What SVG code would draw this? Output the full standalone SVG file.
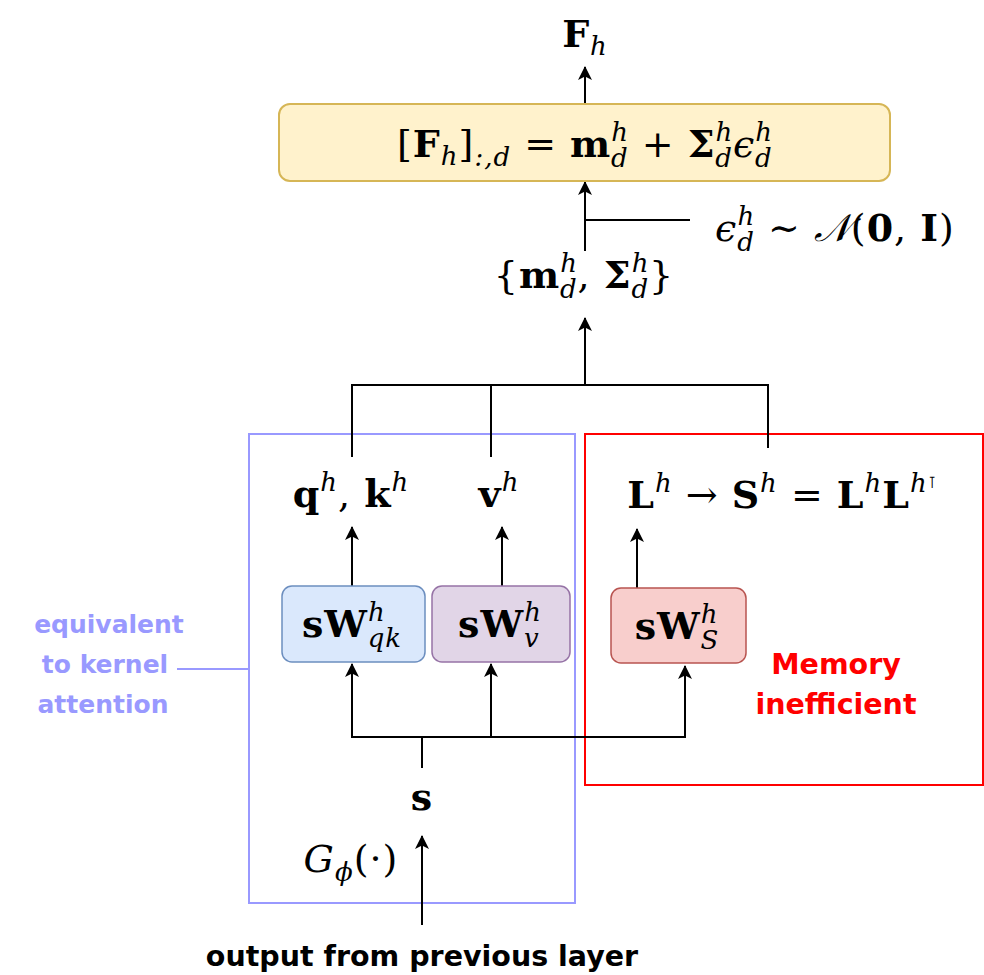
<svg xmlns="http://www.w3.org/2000/svg" width="984" height="975" viewBox="0 0 984 975">
<style>
.m{font-family:"DejaVu Serif","Liberation Serif",serif;font-size:38px;letter-spacing:1px;fill:#000;text-anchor:middle}
.b{font-weight:bold}
.i{font-style:italic}
.s{font-size:26px;font-style:italic;font-weight:normal}
.ln{stroke:#000;stroke-width:2;fill:none}
.lbl{font-family:"DejaVu Sans","Liberation Sans",sans-serif;font-weight:bold;text-anchor:middle}
</style>
<defs>
<marker id="ah" viewBox="0 0 14 14" refX="13" refY="7" markerWidth="14" markerHeight="14" markerUnits="userSpaceOnUse" orient="auto">
<path d="M0,0 L14,7 L0,14 L3.5,7 Z" fill="#000"/>
</marker>
</defs>
<rect x="0" y="0" width="984" height="975" fill="#fff"/>

<g id="regions">
<rect id="kernel-region" x="249" y="434" width="326" height="469" fill="none" stroke="#9999ff" stroke-width="2"/>
<rect id="memory-region" x="585" y="434" width="398" height="351" fill="none" stroke="#ff0000" stroke-width="2"/>
</g>

<g id="connectors">
<line class="ln" x1="585" y1="104" x2="585" y2="67" marker-end="url(#ah)"/>
<line class="ln" x1="585" y1="251" x2="585" y2="182" marker-end="url(#ah)"/>
<line class="ln" x1="585" y1="220" x2="690" y2="220"/>
<line class="ln" x1="585" y1="385" x2="585" y2="318" marker-end="url(#ah)"/>
<polyline class="ln" points="352,457 352,385 768,385 768,448"/>
<line class="ln" x1="491" y1="385" x2="491" y2="457"/>
<line class="ln" x1="352" y1="586" x2="352" y2="527" marker-end="url(#ah)"/>
<line class="ln" x1="502" y1="586" x2="502" y2="527" marker-end="url(#ah)"/>
<line class="ln" x1="637" y1="588" x2="637" y2="529" marker-end="url(#ah)"/>
<polyline class="ln" points="352,666 352,737 685,737 685,666" marker-end="url(#ah)"/>
<line class="ln" x1="352" y1="737" x2="352" y2="664" marker-end="url(#ah)"/>
<line class="ln" x1="491" y1="737" x2="491" y2="664" marker-end="url(#ah)"/>
<line class="ln" x1="422" y1="737" x2="422" y2="768"/>
<line class="ln" x1="422" y1="925" x2="422" y2="836" marker-end="url(#ah)"/>
<line x1="177" y1="669" x2="249" y2="669" stroke="#9999ff" stroke-width="2"/>
</g>

<g id="Fh-out">
<text class="m" x="585" y="47"><tspan class="b">F</tspan><tspan class="s" dy="8">h</tspan></text>
</g>

<g id="sample-box">
<rect x="279" y="104" width="611" height="77" rx="11" fill="#fff2cc" stroke="#d6b656" stroke-width="2"/>
<text class="m" x="585" y="157">[<tspan class="b">F</tspan><tspan class="s" dy="8">h</tspan><tspan dy="-8">]</tspan><tspan class="s" font-style="normal" dy="9">:,</tspan><tspan class="s">d</tspan><tspan dy="-9"> = </tspan><tspan class="b">m</tspan><tspan class="s" dy="-16">h</tspan><tspan class="s" dx="-18" dy="26">d</tspan><tspan dy="-10"> + </tspan><tspan class="b">Σ</tspan><tspan class="s" dy="-16">h</tspan><tspan class="s" dx="-18" dy="26">d</tspan><tspan class="i" dy="-10">ϵ</tspan><tspan class="s" dy="-16">h</tspan><tspan class="s" dx="-18" dy="26">d</tspan></text>
</g>

<g id="noise">
<text class="m" x="835" y="241"><tspan class="i">ϵ</tspan><tspan class="s" dy="-16">h</tspan><tspan class="s" dx="-18" dy="26">d</tspan><tspan dy="-10"> ∼ </tspan><tspan class="i">𝒩</tspan>(<tspan class="b">0</tspan>, <tspan class="b">I</tspan>)</text>
</g>

<g id="params">
<text class="m" x="584" y="288">{<tspan class="b">m</tspan><tspan class="s" dy="-16">h</tspan><tspan class="s" dx="-18" dy="26">d</tspan><tspan dy="-10">, </tspan><tspan class="b">Σ</tspan><tspan class="s" dy="-16">h</tspan><tspan class="s" dx="-18" dy="26">d</tspan><tspan dy="-10">}</tspan></text>
</g>

<g id="qk-label">
<text class="m" x="351" y="507"><tspan class="b">q</tspan><tspan class="s" dy="-16">h</tspan><tspan dy="16">, </tspan><tspan class="b">k</tspan><tspan class="s" dy="-16">h</tspan></text>
</g>
<g id="v-label">
<text class="m" x="499" y="507"><tspan class="b">v</tspan><tspan class="s" dy="-16">h</tspan></text>
</g>
<g id="LS-label">
<text class="m" x="782" y="508"><tspan class="b">L</tspan><tspan class="s" dy="-16">h</tspan><tspan dy="16"> → </tspan><tspan class="b">S</tspan><tspan class="s" dy="-16">h</tspan><tspan dy="16"> = </tspan><tspan class="b">L</tspan><tspan class="s" dy="-16">h</tspan><tspan class="b" dy="16">L</tspan><tspan class="s" dy="-16">h</tspan><tspan font-size="16" dy="-4">⊺</tspan></text>
</g>

<g id="Wqk">
<rect x="282" y="586" width="143" height="76" rx="10" fill="#dae8fc" stroke="#6c8ebf" stroke-width="1.5"/>
<text class="m" x="352" y="637"><tspan class="b">sW</tspan><tspan class="s" dy="-16">h</tspan><tspan class="s" dx="-18" dy="26">qk</tspan></text>
</g>
<g id="Wv">
<rect x="432" y="586" width="138" height="76" rx="10" fill="#e1d5e7" stroke="#9673a6" stroke-width="1.5"/>
<text class="m" x="500" y="637"><tspan class="b">sW</tspan><tspan class="s" dy="-16">h</tspan><tspan class="s" dx="-18" dy="26">v</tspan></text>
</g>
<g id="WS">
<rect x="611" y="588" width="135" height="75" rx="10" fill="#f8cecc" stroke="#b85450" stroke-width="1.5"/>
<text class="m" x="677" y="639"><tspan class="b">sW</tspan><tspan class="s" dy="-16">h</tspan><tspan class="s" dx="-18" dy="26">S</tspan></text>
</g>

<g id="s-label">
<text class="m b" x="422" y="810">s</text>
</g>
<g id="G-label">
<text class="m" x="351" y="872"><tspan class="i">G</tspan><tspan class="s" dy="9">ϕ</tspan><tspan dy="-9">(·)</tspan></text>
</g>

<g id="kernel-note">
<text class="lbl" fill="#9999ff" font-size="25"><tspan x="109" y="633">equivalent</tspan><tspan x="105" y="673">to kernel</tspan><tspan x="103" y="713">attention</tspan></text>
</g>
<g id="memory-note">
<text class="lbl" fill="#ff0000" font-size="28.5"><tspan x="836" y="674">Memory</tspan><tspan x="836" y="714">inefficient</tspan></text>
</g>
<g id="input-label">
<text class="lbl" fill="#000" font-size="28.5" x="422" y="966">output from previous layer</text>
</g>
</svg>
